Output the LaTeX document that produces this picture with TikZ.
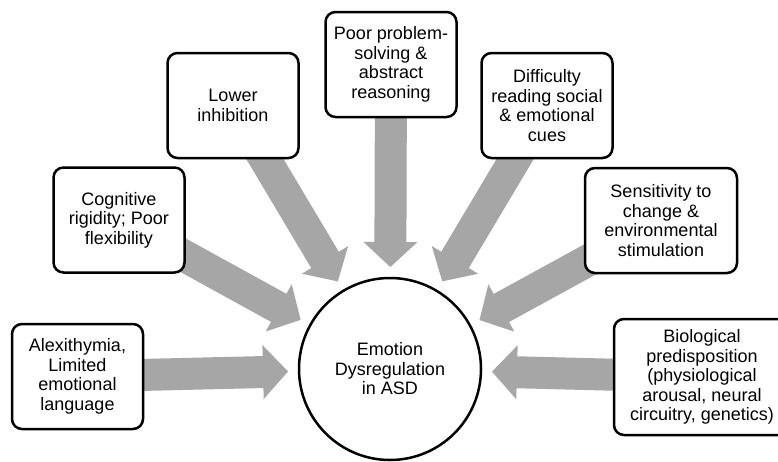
\documentclass[tikz,border=0pt]{standalone}
\usepackage{fontspec}
\setmainfont{Liberation Sans}
\usetikzlibrary{calc, backgrounds}
\definecolor{arrowgray}{RGB}{166, 166, 166}
\tikzset{
  causebox/.style={draw=black, line width=2.5pt, rounded corners=10pt, fill=white,
    align=center, inner sep=2pt, minimum width=131pt, minimum height=105pt,
    font=\fontsize{18}{19.5}\selectfont},
  hub/.style={draw=black, line width=2.5pt, circle, fill=white, align=center,
    minimum size=182pt, inner sep=0pt, font=\fontsize{18}{19.5}\selectfont}
}
\newcommand{\fatarrow}[2]{%
  \fill[arrowgray] ($(#1)!16pt!90:(#2)$) -- ($(#2)!25pt!(#1)!16pt!-90:(#1)$)
    -- ($(#2)!25pt!(#1)!27pt!-90:(#1)$) -- (#2) -- ($(#2)!25pt!(#1)!27pt!90:(#1)$)
    -- ($(#2)!25pt!(#1)!16pt!90:(#1)$) -- ($(#1)!16pt!-90:(#2)$) -- cycle;}

\begin{document}
\begin{tikzpicture}[x=1pt, y=-1pt]
  \useasboundingbox (0,0) rectangle (778,461);

  \node[hub] (emo) at (390,369) {Emotion\\Dysregulation\\in ASD};

  \node[causebox] (alex) at (77.5,376.5) {Alexithymia,\\Limited\\emotional\\language};
  \node[causebox] (cog) at (119,220) {Cognitive\\rigidity; Poor\\flexibility};
  \node[causebox] (lower) at (233,105.5) {Lower\\inhibition};
  \node[causebox] (poor) at (391,64.5) {Poor problem-\\solving \&\\abstract\\reasoning};
  \node[causebox] (diff) at (547,105.5) {Difficulty\\reading social\\\& emotional\\cues};
  \node[causebox, minimum width=152pt] (sens) at (661,220.5) {Sensitivity to\\change \&\\environmental\\stimulation};
  \node[causebox, minimum width=176pt, minimum height=116pt] (bio) at (702,377) {Biological\\predisposition\\(physiological\\arousal, neural\\circuitry, genetics)};

  \begin{scope}[on background layer]
    \foreach \n in {alex, cog, lower, poor, diff, sens, bio} {
      \coordinate (t-\n) at ($(emo.center)!102pt!(\n.center)$);
      \fatarrow{\n.center}{t-\n}
    }
  \end{scope}
\end{tikzpicture}
\end{document}
